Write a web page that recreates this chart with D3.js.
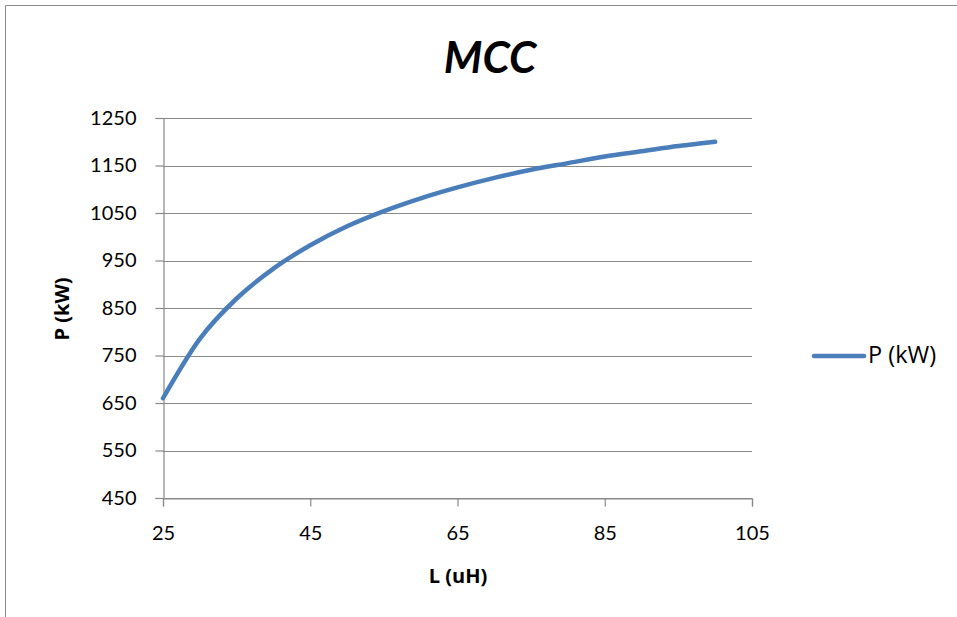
<!DOCTYPE html>
<html>
<head>
<meta charset="utf-8">
<script src="https://cdn.jsdelivr.net/npm/d3@7"></script>
<style>
  html, body { margin: 0; padding: 0; background: #fff; }
  svg { display: block; font-family: Lato, "Open Sans", sans-serif; }
</style>
</head>
<body>
<svg id="chart" width="957" height="617"></svg>
<script>
// Data
const L_values = [25, 30, 35, 40, 45, 50, 55, 60, 65, 70, 75, 80, 85, 90, 95, 100];
const P_values = [660, 785, 870, 933, 982, 1022, 1054, 1081, 1104, 1124, 1141, 1155, 1169, 1180, 1191, 1200];
const xTicks = [25, 45, 65, 85, 105];
const yTicks = [450, 550, 650, 750, 850, 950, 1050, 1150, 1250];
const chartTitle = "MCC";
const xTitle = "L (uH)";
const yTitle = "P (kW)";
const seriesName = "P (kW)";

(function () {
const svg = d3.select("#chart");
const plotLeft = 163, plotRight = 752, plotTop = 118, plotBottom = 498;

const x = d3.scaleLinear().domain([25, 105]).range([plotLeft, plotRight]);
const y = d3.scaleLinear().domain([450, 1250]).range([plotBottom, plotTop]);

// chart border
svg.append("path")
  .attr("d", "M5.5,617 L5.5,5.5 L957,5.5")
  .attr("fill", "none").attr("stroke", "#888").attr("stroke-width", 1);

// gridlines
svg.append("g").selectAll("line").data(yTicks).join("line")
  .attr("x1", plotLeft).attr("x2", plotRight)
  .attr("y1", d => Math.round(y(d)) + 0.5).attr("y2", d => Math.round(y(d)) + 0.5)
  .attr("stroke", "#898989").attr("stroke-width", 1.2);

// y axis
const yAxis = svg.append("g").attr("transform", `translate(${plotLeft + 0.5},0)`)
  .call(d3.axisLeft(y).tickValues(yTicks).tickSize(8).tickPadding(19).tickFormat(d3.format("d")));
yAxis.select(".domain").attr("stroke", "#898989").attr("stroke-width", 1.2);
yAxis.selectAll(".tick line").attr("stroke", "#898989").attr("stroke-width", 1.2);
yAxis.selectAll("text").attr("font-size", 20).attr("fill", "#000").attr("font-family", "Lato, sans-serif");

// x axis
const xAxis = svg.append("g").attr("transform", `translate(0,${plotBottom + 0.5})`)
  .call(d3.axisBottom(x).tickValues(xTicks).tickSize(8).tickPadding(19).tickFormat(d3.format("d")));
xAxis.select(".domain").attr("stroke", "#898989").attr("stroke-width", 1.2);
xAxis.selectAll(".tick line").attr("stroke", "#898989").attr("stroke-width", 1.2);
xAxis.selectAll("text").attr("font-size", 20).attr("fill", "#000").attr("font-family", "Lato, sans-serif");

// line
const line = d3.line().x((d, i) => x(L_values[i])).y(d => y(d)).curve(d3.curveMonotoneX);
svg.append("path").datum(P_values)
  .attr("d", line)
  .attr("fill", "none").attr("stroke", "#4a7ebb").attr("stroke-width", 4.5)
  .attr("stroke-linecap", "round").attr("stroke-linejoin", "round");

// title
svg.append("text").attr("x", 490).attr("y", 73).attr("text-anchor", "middle")
  .attr("font-size", 44).attr("font-weight", "bold").attr("font-style", "italic")
  .text(chartTitle);

// axis titles
svg.append("text").attr("x", 458).attr("y", 583).attr("text-anchor", "middle")
  .attr("font-family", "'Open Sans', sans-serif")
  .attr("font-size", 20).attr("font-weight", "bold").text(xTitle);
svg.append("text").attr("transform", "translate(69,309) rotate(-90)").attr("text-anchor", "middle")
  .attr("font-family", "'Open Sans', sans-serif")
  .attr("font-size", 20).attr("font-weight", "bold").text(yTitle);

// legend
svg.append("line").attr("x1", 814).attr("x2", 864).attr("y1", 356).attr("y2", 356)
  .attr("stroke", "#4a7ebb").attr("stroke-width", 4.5).attr("stroke-linecap", "round");
svg.append("text").attr("x", 868).attr("y", 363).attr("font-size", 23.5)
  .attr("font-family", "'Open Sans', sans-serif").text(seriesName);
})();
</script>
</body>
</html>
